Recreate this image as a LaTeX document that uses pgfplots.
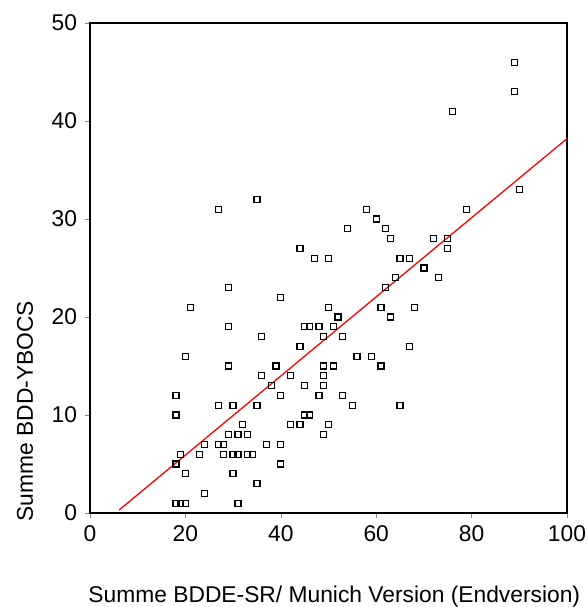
\documentclass[border=0pt]{standalone}
\usepackage{fontspec}
\setmainfont{Liberation Sans}
\usepackage{pgfplots}
\pgfplotsset{compat=1.18}

\begin{document}
\fontsize{11.4}{14}\selectfont
\begin{tikzpicture}
  \begin{axis}[
      scale only axis,
      width=238.5pt,
      height=245pt,
      axis lines=box,
      xmin=0, xmax=100,
      ymin=0, ymax=50,
      xtick={0,20,40,60,80,100},
      ytick={0,10,20,30,40,50},
      tick align=outside,
      xtick pos=left,
      ytick pos=left,
      major tick length=2.5pt,
      axis line style={line width=0.65pt, black},
      ticklabel style={font=\fontsize{11.4}{14}\selectfont},
      /pgf/number format/assume math mode=true,
      xlabel={Summe BDDE-SR/ Munich Version (Endversion)},
      ylabel={Summe BDD-YBOCS},
      xlabel style={at={(axis description cs:-0.004,-0.182)}, anchor=base west, inner sep=0pt},
      ylabel style={at={(axis description cs:-0.1195,-0.018)}, anchor=base west, inner sep=0pt},
      label style={font=\fontsize{11.4}{14}\selectfont},
    ]

    % Streudiagramm
    \addplot[only marks, mark=square, mark size=1.5pt,
      mark options={draw=black, fill=none, line width=0.65pt}] coordinates {
      (18,1) (19,1) (20,1) (31,1)
      (24,2)
      (35,3)
      (20,4) (30,4)
      (18,5) (40,5)
      (19,6) (23,6) (28,6) (30,6) (31,6) (33,6) (34,6)
      (24,7) (27,7) (28,7) (37,7) (40,7)
      (29,8) (31,8) (33,8) (49,8)
      (32,9) (42,9) (44,9) (50,9)
      (18,10) (45,10) (46,10)
      (27,11) (30,11) (35,11) (55,11) (65,11)
      (18,12) (40,12) (48,12) (53,12)
      (38,13) (45,13) (49,13)
      (36,14) (42,14) (49,14)
      (29,15) (39,15) (49,15) (51,15) (61,15)
      (20,16) (56,16) (59,16)
      (44,17) (67,17)
      (36,18) (49,18) (53,18)
      (29,19) (45,19) (46,19) (48,19) (51,19)
      (52,20) (63,20)
      (21,21) (50,21) (61,21) (68,21)
      (40,22)
      (29,23) (62,23)
      (64,24) (73,24)
      (70,25)
      (47,26) (50,26) (65,26) (67,26)
      (44,27) (75,27)
      (63,28) (72,28) (75,28)
      (54,29) (62,29)
      (60,30)
      (27,31) (58,31) (79,31)
      (35,32)
      (90,33)
      (76,41)
      (89,43) (89,46)
    };

    % Regressionsgerade
    \addplot[red, line width=0.65pt] coordinates {(6.1,0.3) (100,38.2)};

    \coordinate (O) at (rel axis cs:0,0);
  \end{axis}
  % Rand wie im Original
  \pgfresetboundingbox
  \path (O) ++(-45pt,-47pt) rectangle ++(293.5pt,303.5pt);
\end{tikzpicture}
\end{document}
